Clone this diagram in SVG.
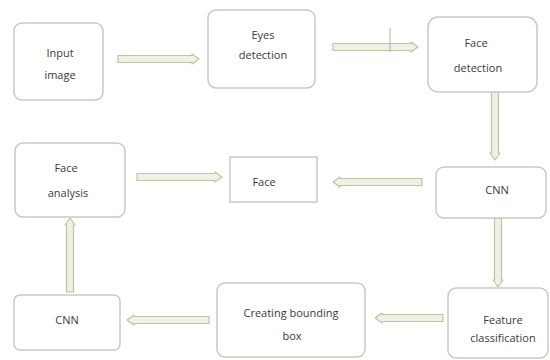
<svg xmlns="http://www.w3.org/2000/svg" width="550" height="360" viewBox="0 0 550 360">
<style>
.box{fill:#ffffff;stroke:#c6cbbf;stroke-width:1.5}
.arr{fill:#eef2e6;stroke:#bac6a8;stroke-width:1.2;stroke-linejoin:round}
.t{font-family:"Open Sans","Liberation Sans",sans-serif;font-size:11px;fill:#3a3a3a;text-anchor:middle}
</style>
<rect width="550" height="360" fill="#ffffff"/>
<g id="connectors">
<polygon class="arr" points="118,55.5 192,55.5 192,54 199,59 192,64 192,62.5 118,62.5"/>
<polygon class="arr" points="333,43.5 411,43.5 411,42 418,47 411,52 411,50.5 333,50.5"/>
<line x1="390" y1="28" x2="390" y2="52" stroke="#aab29e" stroke-width="1"/>
<polygon class="arr" points="491.5,92 498.5,92 498.5,153 500,153 495,160 490,153 491.5,153"/>
<polygon class="arr" points="422,178.5 340,178.5 340,177 333,182 340,187 340,185.5 422,185.5"/>
<polygon class="arr" points="137,173.5 215,173.5 215,172 222,177 215,182 215,180.5 137,180.5"/>
<polygon class="arr" points="494.5,218 501.5,218 501.5,280 503,280 498,287 493,280 494.5,280"/>
<polygon class="arr" points="443,314.5 382,314.5 382,313 375,318 382,323 382,321.5 443,321.5"/>
<polygon class="arr" points="209,316.5 134,316.5 134,315 127,320 134,325 134,323.5 209,323.5"/>
<polygon class="arr" points="66.5,292 73.5,292 73.5,225 75,225 70,218 65,225 66.5,225"/>
</g>
<g id="input-image">
<rect class="box" x="14" y="23" width="89" height="77" rx="8"/>
<text class="t" x="60" y="57">Input</text>
<text class="t" x="60" y="79">image</text>
</g>
<g id="eyes-detection">
<rect class="box" x="208" y="10" width="107" height="78" rx="8"/>
<text class="t" x="263" y="39">Eyes</text>
<text class="t" x="263" y="59">detection</text>
</g>
<g id="face-detection">
<rect class="box" x="428" y="17" width="109" height="75" rx="10"/>
<text class="t" x="476" y="47">Face</text>
<text class="t" x="478" y="72">detection</text>
</g>
<g id="cnn-right">
<rect class="box" x="436" y="167" width="110" height="51" rx="8"/>
<text class="t" x="497" y="194">CNN</text>
</g>
<g id="face">
<rect class="box" x="230" y="157" width="87" height="45"/>
<text class="t" x="264" y="186">Face</text>
</g>
<g id="face-analysis">
<rect class="box" x="15" y="143" width="110" height="74" rx="8"/>
<text class="t" x="66" y="172">Face</text>
<text class="t" x="68" y="197">analysis</text>
</g>
<g id="cnn-left">
<rect class="box" x="14" y="295" width="106" height="55" rx="6"/>
<text class="t" x="67" y="324">CNN</text>
</g>
<g id="creating-bounding-box">
<rect class="box" x="217" y="283" width="148" height="74" rx="8"/>
<text class="t" x="291" y="317">Creating bounding</text>
<text class="t" x="292" y="340">box</text>
</g>
<g id="feature-classification">
<rect class="box" x="448" y="288" width="100" height="70" rx="8"/>
<text class="t" x="503" y="324">Feature</text>
<text class="t" x="503" y="342">classification</text>
</g>
</svg>
